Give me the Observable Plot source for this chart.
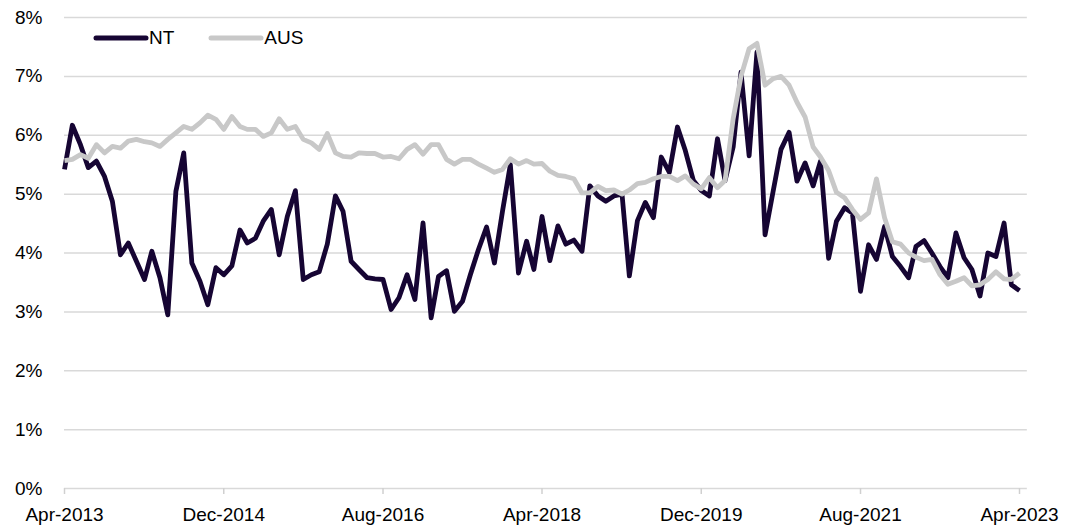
<!DOCTYPE html>
<html><head><meta charset="utf-8">
<script src="https://cdn.jsdelivr.net/npm/d3@7"></script>
<script src="https://cdn.jsdelivr.net/npm/@observablehq/plot@0.6"></script>
<style>
body{margin:0;background:#fff;}
#wrap{position:relative;width:1075px;height:530px;font-family:"Liberation Sans",Arial,sans-serif;color:#000;}
#legend{position:absolute;left:93px;top:27px;display:flex;align-items:center;font-size:19px;}
#legend .item{display:flex;align-items:center;margin-right:34px;}
#legend svg{display:block;}
</style></head><body><div id="wrap"><div id="legend"></div></div>
<script>
const startMonth = "2013-04-01";
const seriesNames = ["NT", "AUS"];
const seriesColors = ["#160533", "#c8c8c8"];
const ntValues = [5.42,6.17,5.84,5.45,5.56,5.30,4.88,3.97,4.17,3.86,3.55,4.03,3.58,2.95,5.05,5.70,3.83,3.52,3.12,3.75,3.63,3.78,4.39,4.17,4.25,4.54,4.74,3.97,4.62,5.06,3.55,3.63,3.68,4.15,4.97,4.71,3.86,3.72,3.58,3.56,3.55,3.04,3.24,3.63,3.21,4.51,2.90,3.60,3.70,3.01,3.18,3.63,4.06,4.44,3.83,4.71,5.50,3.66,4.20,3.72,4.62,3.87,4.46,4.15,4.22,4.03,5.14,4.97,4.88,4.97,5.00,3.61,4.55,4.86,4.60,5.63,5.37,6.14,5.74,5.23,5.06,4.97,5.94,5.23,5.80,7.07,5.65,7.41,4.31,5.05,5.76,6.05,5.22,5.53,5.14,5.56,3.91,4.54,4.77,4.68,3.35,4.14,3.89,4.45,3.94,3.77,3.58,4.11,4.21,4.00,3.77,3.58,4.34,3.92,3.72,3.27,4.00,3.94,4.51,3.46,3.36];
const ausValues = [5.57,5.59,5.67,5.61,5.84,5.70,5.81,5.78,5.90,5.93,5.89,5.87,5.81,5.93,6.04,6.15,6.10,6.21,6.34,6.27,6.10,6.32,6.15,6.10,6.10,5.98,6.04,6.28,6.10,6.15,5.93,5.87,5.76,6.03,5.70,5.64,5.63,5.70,5.69,5.69,5.63,5.64,5.60,5.76,5.84,5.68,5.84,5.84,5.59,5.51,5.59,5.59,5.51,5.44,5.37,5.42,5.60,5.51,5.57,5.51,5.52,5.39,5.32,5.30,5.26,5.02,5.02,5.13,5.06,5.07,5.00,5.07,5.18,5.20,5.26,5.30,5.30,5.23,5.31,5.17,5.09,5.28,5.11,5.23,6.28,7.00,7.47,7.56,6.85,6.96,7.00,6.85,6.56,6.31,5.80,5.63,5.40,5.03,4.94,4.74,4.57,4.68,5.26,4.60,4.19,4.15,4.00,3.93,3.87,3.89,3.63,3.47,3.52,3.58,3.44,3.46,3.55,3.68,3.56,3.55,3.66];
const yTicks = [0, 1, 2, 3, 4, 5, 6, 7, 8];
const xTickLabels = ["Apr-2013", "Dec-2014", "Aug-2016", "Apr-2018", "Dec-2019", "Aug-2021", "Apr-2023"];

const start = d3.utcParse("%Y-%m-%d")(startMonth);
const dates = ntValues.map((_, i) => d3.utcMonth.offset(start, i));
const rows = [];
[ntValues, ausValues].forEach((vals, s) => vals.forEach((v, i) => rows.push({date: dates[i], value: v, series: seriesNames[s]})));
const xTicks = xTickLabels.map(d3.utcParse("%b-%Y"));
const gridEnd = d3.utcMonth.offset(dates[dates.length - 1], 1);
const font = '"Liberation Sans", Arial, sans-serif';

const chart = Plot.plot({
  width: 1075, height: 530,
  marginLeft: 64, marginRight: 56, marginTop: 17, marginBottom: 42,
  style: {fontFamily: font, fontSize: "19px", color: "#000", background: "#fff"},
  x: {type: "utc", domain: [dates[0], dates[dates.length - 1]]},
  y: {domain: [0, 8]},
  color: {domain: seriesNames, range: seriesColors},
  marks: [
    Plot.ruleY(yTicks, {x1: dates[0], x2: gridEnd, stroke: "#d9d9d9", strokeWidth: 1.5}),
    Plot.axisY({ticks: yTicks, tickFormat: d => d + "%", tickSize: 0, tickPadding: 22, fontSize: 19, fill: "#000", label: null}),
    Plot.axisX({ticks: xTicks, tickFormat: d3.utcFormat("%b-%Y"), tickSize: 6, tickPadding: 13, stroke: "#d0d0d0", strokeWidth: 1.5, fontSize: 19, fill: "#000", label: null}),
    Plot.lineY(rows, {x: "date", y: "value", z: "series", stroke: "series", strokeWidth: 4.8, strokeLinejoin: "round", strokeLinecap: "butt"})
  ]
});
const wrap = document.getElementById("wrap");
wrap.insertBefore(chart, wrap.firstChild);

const legend = document.getElementById("legend");
seriesNames.forEach((name, i) => {
  const item = document.createElement("div");
  item.className = "item";
  item.innerHTML = `<svg width="56" height="10"><line x1="3" y1="5" x2="53" y2="5" stroke="${seriesColors[i]}" stroke-width="5" stroke-linecap="round"/></svg><span>${name}</span>`;
  legend.appendChild(item);
});
</script></body></html>
